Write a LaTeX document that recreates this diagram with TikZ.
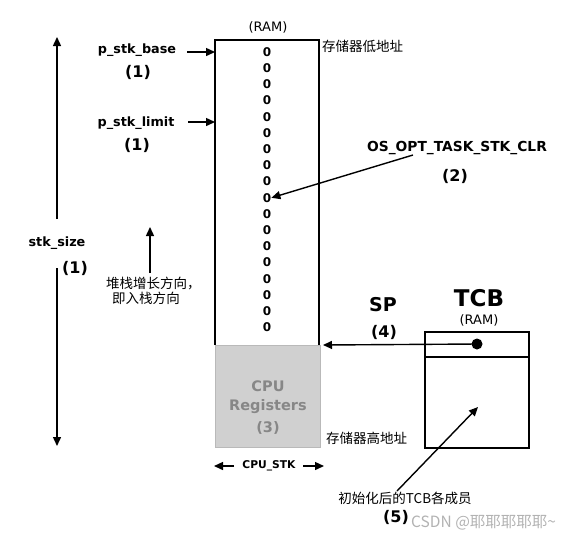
\documentclass[tikz,border=0pt]{standalone}
\usepackage{fontspec}
\setmainfont{DejaVu Sans}
\newfontfamily\cjk{Noto Sans CJK SC}
\usetikzlibrary{arrows.meta}
\definecolor{regfill}{RGB}{208,208,208}
\definecolor{regdraw}{RGB}{185,185,185}
\definecolor{regtext}{RGB}{135,135,135}
\begin{document}
\begin{tikzpicture}[x=1pt,y=-1pt,
  lbl/.style={font=\bfseries\fontsize{12.8}{14}\selectfont, inner sep=0pt},
  num/.style={font=\bfseries\fontsize{16}{18}\selectfont, inner sep=0pt},
  zero/.style={font=\bfseries\fontsize{12}{13}\selectfont, inner sep=0pt},
  cn/.style={font=\cjk\fontsize{13.5}{15}\selectfont, inner sep=0pt, align=left},
  small/.style={font=\fontsize{13}{14}\selectfont, inner sep=0pt},
  regt/.style={font=\bfseries\fontsize{14.5}{16}\selectfont, text=regtext, inner sep=0pt},
  arr/.style={-{Triangle[length=9pt,width=8pt]}, line width=1.4pt},
  boxline/.style={draw=black, line width=1.1pt}]
\useasboundingbox (0,0) rectangle (583,542);
% stack column
\fill[regfill] (215,345) rectangle (320,447);
\draw[regdraw, line width=1pt] (215,345) rectangle (320,447);
\draw[boxline] (215,345) -- (215,40) -- (319,40) -- (319,345);
\node[small] (ram) at (268,27) {(RAM)};
\coordinate (stkbase) at (215,52);
\coordinate (stklimit) at (215,122);
\coordinate (stktop) at (323,345);
\foreach \i in {0,...,17} {
  \node[zero] (z\i) at (267,{52+16.2*\i}) {0};
}
\node[regt] (reg1) at (268,386) {CPU};
\node[regt] (reg2) at (268,407) {Registers};
\node[regt] (reg3) at (268,428) {(3)};
% labels left
\node[lbl] (base) at (137,50) {p\_stk\_base};
\node[num] (base1) at (138,72) {(1)};
\draw[arr] (187,52) -- (stkbase);
\node[lbl] (limit) at (136,123) {p\_stk\_limit};
\node[num] (limit1) at (137,145) {(1)};
\draw[arr] (188,122) -- (stklimit);
% stk_size
\node[lbl] (size) at (57,243) {stk\_size};
\node[num] (size1) at (75,268) {(1)};
\coordinate (sizetop) at (57,37);
\coordinate (sizebot) at (57,446);
\draw[arr] (57,219) -- (sizetop);
\draw[arr] (57,268) -- (sizebot);
% growth
\coordinate (growtop) at (150,227);
\draw[arr] (150,273) -- (growtop);
\node[cn, anchor=north west] (grow) at (106,277) {堆栈增长方向，\\\ \ 即入栈方向};
% address labels
\node[cn, anchor=west] (low) at (322,46) {存储器低地址};
\node[cn, anchor=west] (high) at (326,438) {存储器高地址};
% option
\node[lbl, font=\bfseries\fontsize{13.8}{15}\selectfont] (opt) at (457,148) {OS\_OPT\_TASK\_STK\_CLR};
\node[num] (opt2) at (455,176) {(2)};
\draw[arr] (413,155) -- (z9.east);
% CPU_STK
\node[font=\bfseries\fontsize{10.7}{12}\selectfont, inner sep=0pt] (cpustk) at (269,466) {CPU\_STK};
\coordinate (cl) at (214,466);
\coordinate (cr) at (324,466);
\draw[arr] (234,466) -- (cl);
\draw[arr] (303,466) -- (cr);
% TCB
\node[font=\bfseries\fontsize{23}{25}\selectfont, inner sep=0pt] (tcb) at (479,298) {TCB};
\node[small] (tcbram) at (479,320) {(RAM)};
\draw[boxline] (425,332) rectangle (529,448);
\draw[boxline] (425,357) -- (529,357);
\node[circle, fill=black, minimum size=11pt, inner sep=0pt] (dot) at (477,344) {};
\node[font=\bfseries\fontsize{19}{20}\selectfont, inner sep=0pt] (sp) at (383,305) {SP};
\node[num] (sp4) at (384,332) {(4)};
\draw[arr] (dot.center) -- (stktop);
% TCB members
\node[cn] (mem) at (405,498) {初始化后的TCB各成员};
\node[num] (mem5) at (396,517) {(5)};
\coordinate (memtip) at (478,407);
\draw[arr] (397,491) -- (memtip);
% watermark
\node[font=\cjk\fontsize{15.5}{17}\selectfont, text=black!30, inner sep=0pt, anchor=west] (wm) at (411,523) {CSDN @耶耶耶耶耶\textasciitilde};
\end{tikzpicture}
\end{document}
